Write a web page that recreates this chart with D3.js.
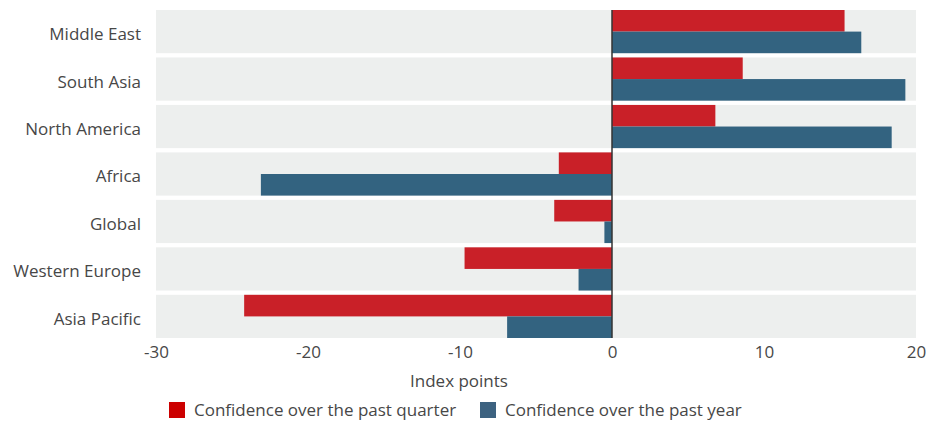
<!DOCTYPE html>
<html>
<head>
<meta charset="utf-8">
<script src="https://cdn.jsdelivr.net/npm/d3@7"></script>
<style>
body { margin: 0; background: #fff; }
text { font-family: "Open Sans", sans-serif; fill: #474747; }
</style>
</head>
<body>
<script>
// chart values
var regions = ['Middle East', 'South Asia', 'North America', 'Africa', 'Global', 'Western Europe', 'Asia Pacific'];
var quarter = [15.3, 8.6, 6.8, -3.5, -3.8, -9.7, -24.2];
var year = [16.4, 19.3, 18.4, -23.1, -0.5, -2.2, -6.9];
var series_names = ['Confidence over the past quarter', 'Confidence over the past year'];
var x_ticks = [-30, -20, -10, 0, 10, 20];

var width = 941, height = 421;
var left = 156, right = 25, top_pad = 10, plot_bottom = 338;
var colors = ['#c92028', '#336380'];

var svg = d3.select('body').append('svg').attr('width', width).attr('height', height);

var xScale = d3.scaleLinear().domain([-30, 20]).range([left, width - right]);
var yScale = d3.scaleBand().domain(regions).range([top_pad, plot_bottom]).paddingInner(0.09).paddingOuter(0);
var sub = d3.scaleBand().domain([0, 1]).range([0, yScale.bandwidth()]);

// grey row backgrounds
svg.append('g').selectAll('rect').data(regions).enter().append('rect')
	.attr('x', xScale(-30)).attr('width', xScale(20) - xScale(-30))
	.attr('y', d => yScale(d)).attr('height', yScale.bandwidth())
	.attr('fill', '#edefee')

var rows = svg.append('g').selectAll('g').data(regions).enter().append('g')
	.attr('transform', d => 'translate(0,' + yScale(d) + ')')

rows.selectAll('rect').data(function(d, i) { return [quarter[i], year[i]] }).enter().append('rect')
	.attr('x', d => xScale(Math.min(0, d)))
	.attr('width', d => Math.abs(xScale(d) - xScale(0)))
	.attr('y', (d, j) => sub(j))
	.attr('height', sub.bandwidth())
	.attr('fill', (d, j) => colors[j])

// zero line
svg.append('line').attr('x1', xScale(0)).attr('x2', xScale(0))
	.attr('y1', top_pad).attr('y2', plot_bottom)
	.attr('stroke', '#333').attr('stroke-width', 1.5)

// category labels
svg.append('g').selectAll('text').data(regions).enter().append('text')
	.attr('x', left - 15).attr('y', d => yScale(d) + yScale.bandwidth() / 2 + 2.5)
	.attr('dy', '0.35em').attr('text-anchor', 'end').attr('font-size', '17px')
	.text(d => d)

// x axis
var xaxis = svg.append('g').attr('transform', 'translate(0,' + plot_bottom + ')')
	.call(d3.axisBottom(xScale).tickValues(x_ticks).tickFormat(d => String(d)).tickSize(0).tickPadding(8))
xaxis.select('.domain').remove()
xaxis.selectAll('text').attr('font-size', '17px').attr('font-family', '"Open Sans", sans-serif').attr('fill', '#474747')

svg.append('text').attr('x', 459).attr('y', 381).attr('dy', '0.35em')
	.attr('text-anchor', 'middle').attr('font-size', '17px').text('Index points')

// legend
var legend_x = [169, 480];
var leg = svg.append('g').selectAll('g').data(series_names).enter().append('g')
	.attr('transform', (d, i) => 'translate(' + legend_x[i] + ',402)')
leg.append('rect').attr('width', 16).attr('height', 16).attr('fill', (d, i) => i == 0 ? '#cc0000' : '#3d6280')
leg.append('text').attr('x', 25).attr('y', 8).attr('dy', '0.35em').attr('font-size', '17px').text(d => d)
</script>
</body>
</html>
